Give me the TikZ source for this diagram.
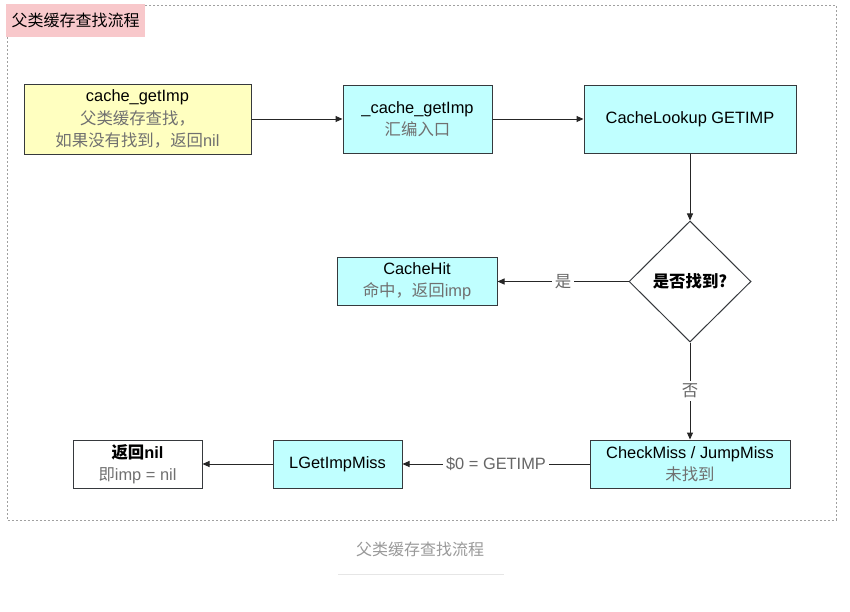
\documentclass[tikz,border=0pt]{standalone}
\usepackage{fontspec}
\setmainfont{Liberation Sans}
\newfontfamily\cjk{Noto Sans CJK SC}
\usetikzlibrary{shapes.geometric,arrows.meta}
\definecolor{boxyellow}{HTML}{FFFFC0}
\definecolor{boxcyan}{HTML}{C0FFFF}
\definecolor{boxline}{HTML}{36393D}
\definecolor{subgray}{HTML}{707070}
\definecolor{lblgray}{HTML}{666666}
\definecolor{titlepink}{HTML}{F8C8CB}
\definecolor{framegray}{HTML}{A0A0A0}
\definecolor{capgray}{HTML}{999999}
\definecolor{caplinegray}{HTML}{E6E6E6}
\begin{document}
\begin{tikzpicture}[x=1pt,y=-1pt,
  txt/.style={font=\fontsize{16.4}{22.5}\selectfont},
  box/.style={txt,draw=boxline,line width=1pt,align=center,inner sep=0pt},
  ybox/.style={box,fill=boxyellow},
  cbox/.style={box,fill=boxcyan},
  wbox/.style={box,fill=white},
  decide/.style={box,diamond,fill=white,draw=boxline},
  conn/.style={draw=black!85,line width=1pt,-{Triangle[length=7pt,width=6pt]}},
  lbl/.style={txt,text=lblgray,fill=white,inner sep=3pt},
]
\useasboundingbox (0,0) rectangle (850,611);
\fill[white] (0,0) rectangle (850,611);
% outer frame
\draw[framegray,line width=0.8pt,dash pattern=on 2pt off 2pt] (7,5) rectangle (836,520);
% title
\node[fill=titlepink,minimum width=139pt,minimum height=33pt,inner sep=0pt,font=\fontsize{16}{20}\selectfont] (title) at (75.5,20.5) {\cjk 父类缓存查找流程};

% nodes
\node[ybox,minimum width=227pt,minimum height=70pt] (yel) at (137.5,119)
  {cache\_getImp\\\textcolor{subgray}{\cjk 父类缓存查找，}\\\textcolor{subgray}{{\cjk 如果没有找到，返回}nil}};
\node[cbox,minimum width=149pt,minimum height=68pt] (asm) at (417.5,119)
  {\_cache\_getImp\\\textcolor{subgray}{\cjk 汇编入口}};
\node[cbox,minimum width=212pt,minimum height=68pt] (look) at (690,119)
  {CacheLookup GETIMP};
\node[decide,minimum width=122pt,minimum height=121pt] (dia) at (690,281.5)
  {\cjk\bfseries 是否找到?};
\node[cbox,minimum width=160pt,minimum height=48pt] (hit) at (417,281.5)
  {CacheHit\\\textcolor{subgray}{{\cjk 命中，返回}imp}};
\node[cbox,minimum width=200pt,minimum height=48pt] (chk) at (690,464)
  {CheckMiss / JumpMiss\\\textcolor{subgray}{\cjk 未找到}};
\node[cbox,minimum width=129pt,minimum height=48pt] (miss) at (337.5,464)
  {LGetImpMiss};
\node[wbox,minimum width=129pt,minimum height=48pt] (ret) at (137.5,464)
  {\bfseries{\cjk 返回}nil\\\textcolor{subgray}{{\cjk 即}imp = nil}};

% connectors
\draw[conn] (yel) -- (asm);
\draw[conn] (asm) -- (look);
\draw[conn] (look) -- (dia);
\draw[conn] (dia) -- node[lbl]{\cjk 是} (hit);
\draw[conn] (dia) -- node[lbl]{\cjk 否} (chk);
\draw[conn] (chk) -- node[lbl]{\$0 = GETIMP} (miss);
\draw[conn] (miss) -- (ret);

% caption
\node[font=\fontsize{16}{20}\selectfont,text=capgray] (cap) at (420,549) {\cjk 父类缓存查找流程};
\draw[caplinegray,line width=1pt] (338,574) -- (504,574);
\end{tikzpicture}
\end{document}
